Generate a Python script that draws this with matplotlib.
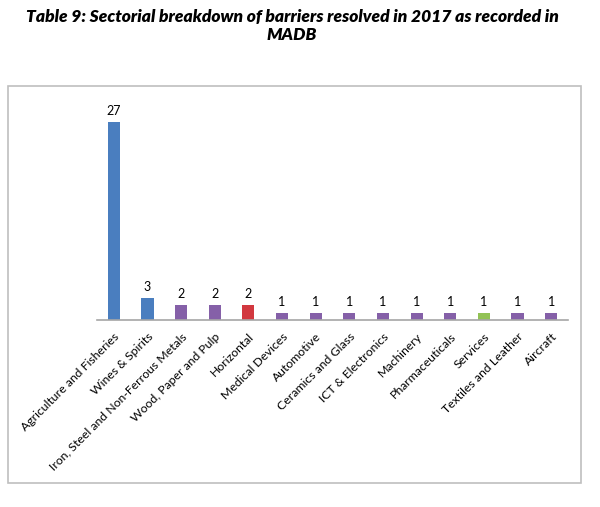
import matplotlib.pyplot as plt
from matplotlib.patches import Rectangle

# Data
sectors = ['Agriculture and Fisheries', 'Wines & Spirits', 'Iron, Steel and Non-Ferrous Metals',
           'Wood, Paper and Pulp', 'Horizontal', 'Medical Devices', 'Automotive',
           'Ceramics and Glass', 'ICT & Electronics', 'Machinery', 'Pharmaceuticals',
           'Services', 'Textiles and Leather', 'Aircraft']
barriers = [27, 3, 2, 2, 2, 1, 1, 1, 1, 1, 1, 1, 1, 1]
colors = ['#4A7EBF', '#4A7EBF', '#8560A8', '#8560A8', '#D2383F', '#8560A8', '#8560A8',
          '#8560A8', '#8560A8', '#8560A8', '#8560A8', '#92C255', '#8560A8', '#8560A8']

plt.rcParams['font.family'] = ['Lato', 'DejaVu Sans']

fig = plt.figure(figsize=(6, 5.07), dpi=100)

# outer chart frame
fig.patches.append(Rectangle((8 / 600, 1 - 483 / 507), 573 / 600, 397 / 507,
                             transform=fig.transFigure, fill=False,
                             edgecolor='#BFBFBF', linewidth=1.2))

fig.text(292 / 600, 1 - 17 / 507, 'Table 9: Sectorial breakdown of barriers resolved in 2017 as recorded in',
         ha='center', va='center', fontsize=12.5, fontweight='heavy', fontstyle='italic')
fig.text(292 / 600, 1 - 35 / 507, 'MADB', ha='center', va='center', fontsize=12.5,
         fontweight='heavy', fontstyle='italic')

ax = fig.add_axes([97 / 600, 187 / 507, 471 / 600, 220 / 507])
x = range(len(sectors))
bars = ax.bar(x, barriers, width=0.36, color=colors)
for b, v in zip(bars, barriers):
    ax.text(b.get_x() + b.get_width() / 2, v + 0.7, str(v), ha='center', va='bottom', fontsize=9)

ax.set_xlim(-0.5, len(sectors) - 0.5)
ax.set_ylim(0, 30)
ax.set_yticks([])
ax.set_xticks(list(x))
ax.set_xticklabels(sectors, rotation=45, ha='right', rotation_mode='anchor', fontsize=8.8)
ax.tick_params(axis='x', length=0, pad=8)
for s in ['top', 'right', 'left']:
    ax.spines[s].set_visible(False)
ax.spines['bottom'].set_color('#A6A6A6')
ax.spines['bottom'].set_linewidth(1.2)

fig.savefig('out.png', dpi=100)
